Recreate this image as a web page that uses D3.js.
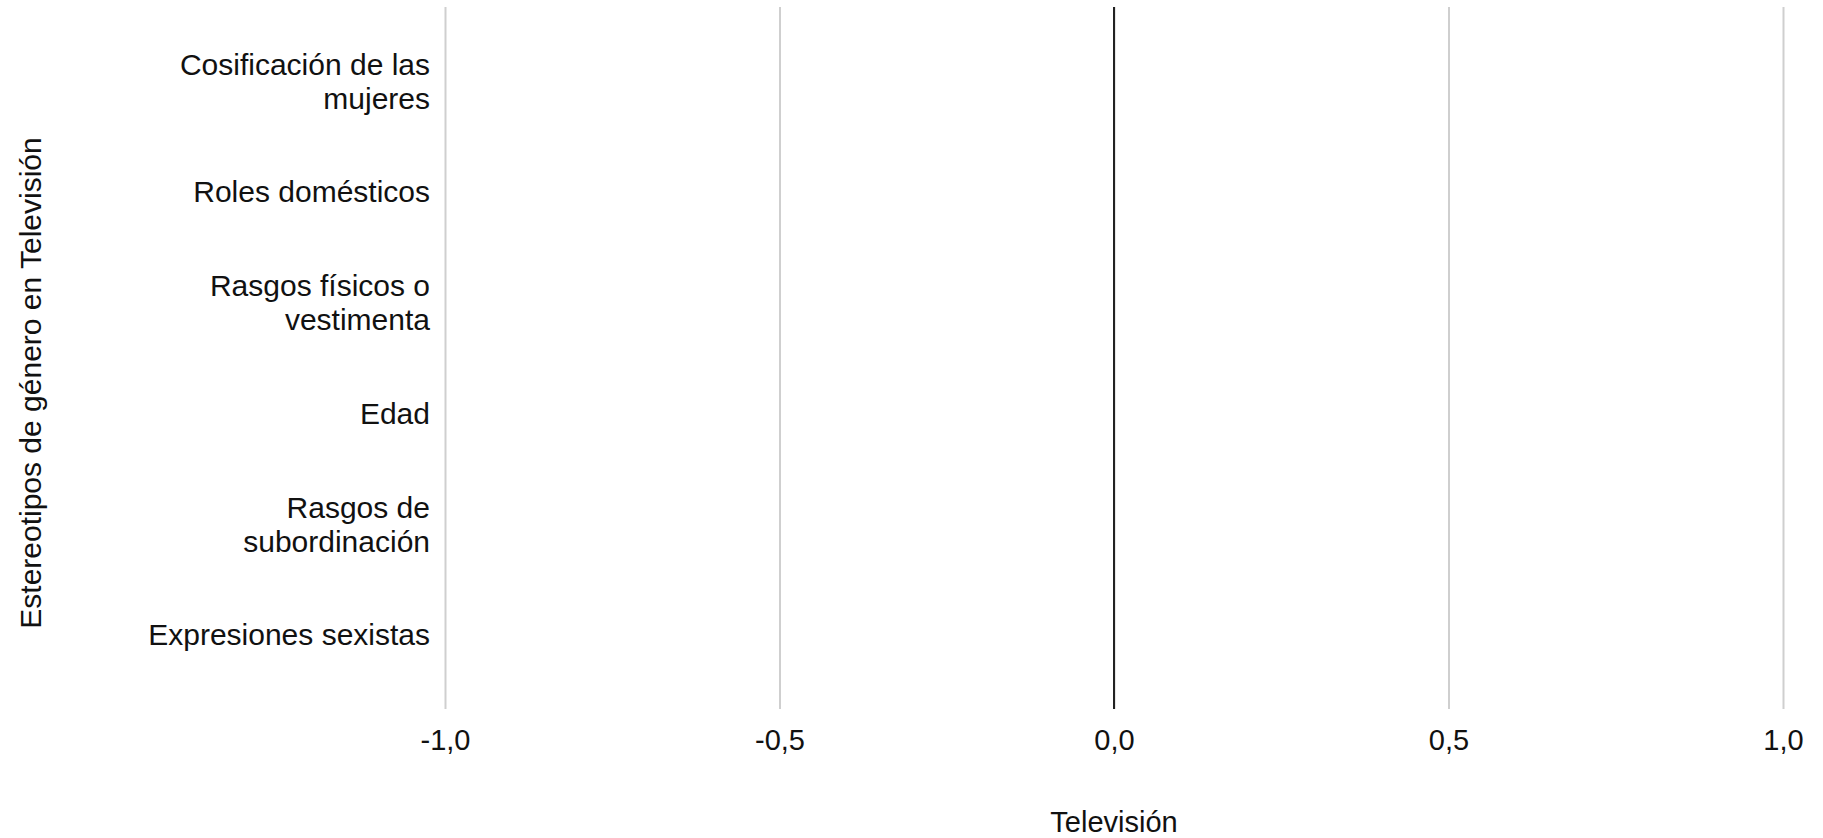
<!DOCTYPE html>
<html>
<head>
<meta charset="utf-8">
<script src="https://cdn.jsdelivr.net/npm/d3@7"></script>
<style>
  body { margin: 0; background: #fff; }
  text { font-family: Arial, "Liberation Sans", sans-serif; fill: #111; }
</style>
</head>
<body>
<div id="chart"></div>
<script>
// Data
var categories = [
  ["Cosificación de las", "mujeres"],
  ["Roles domésticos"],
  ["Rasgos físicos o", "vestimenta"],
  ["Edad"],
  ["Rasgos de", "subordinación"],
  ["Expresiones sexistas"]
];
var values = [0, 0, 0, 0, 0, 0]; // no bars shown
var xTicks = [-1, -0.5, 0, 0.5, 1];
var xTitle = "Televisión";
var yTitle = "Estereotipos de género en Televisión";

var width = 1823, height = 838;
var plotLeft = 445, plotRight = 1783, plotTop = 7, plotBottom = 709;
var fs = 29, fsCat = 30;

var svg = d3.select("#chart").append("svg")
  .attr("width", width)
  .attr("height", height);

var x = d3.scaleLinear().domain([-1, 1]).range([plotLeft, plotRight]);
var y = d3.scalePoint()
  .domain(d3.range(categories.length))
  .range([plotTop, plotBottom])
  .padding(0.668);

// gridlines + tick labels
var xAxis = d3.axisBottom(x)
  .tickValues(xTicks)
  .tickSize(-(plotBottom - plotTop))
  .tickPadding(20)
  .tickFormat(function(d) { return d3.format(".1f")(d).replace("−", "-").replace(".", ","); });

var gx = svg.append("g")
  .attr("transform", "translate(0," + plotBottom + ")")
  .call(xAxis);
gx.select(".domain").remove();
gx.selectAll(".tick line")
  .attr("stroke", "#cfcfcf")
  .attr("stroke-width", 2);
gx.selectAll(".tick text")
  .attr("font-size", fs)
  .attr("fill", "#111")
  .attr("font-family", "Arial, 'Liberation Sans', sans-serif");

// zero line
svg.append("line")
  .attr("x1", x(0)).attr("x2", x(0))
  .attr("y1", plotTop).attr("y2", plotBottom)
  .attr("stroke", "#222")
  .attr("stroke-width", 2);

// bars (all zero)
svg.selectAll("rect.bar")
  .data(values)
  .enter().append("rect")
  .attr("class", "bar")
  .attr("x", function(d) { return Math.min(x(0), x(d)); })
  .attr("width", function(d) { return Math.abs(x(d) - x(0)); })
  .attr("y", function(d, i) { return y(i) - 30; })
  .attr("height", 60)
  .attr("fill", "#3a6ea5");

// category labels
var lh = 34;
var cat = svg.selectAll("text.cat")
  .data(categories)
  .enter().append("text")
  .attr("class", "cat")
  .attr("text-anchor", "end")
  .attr("font-size", fsCat)
  .attr("y", function(d, i) { return y(i); });
cat.selectAll("tspan")
  .data(function(d) { return d.map(function(s, j) { return { s: s, j: j, n: d.length }; }); })
  .enter().append("tspan")
  .attr("x", 430)
  .attr("dy", function(t) { return t.j === 0 ? (0.35 * fsCat - (t.n - 1) * lh / 2) : lh; })
  .text(function(t) { return t.s; });

// axis titles
svg.append("text")
  .attr("text-anchor", "middle")
  .attr("font-size", fs)
  .attr("x", x(0))
  .attr("y", 832)
  .text(xTitle);

svg.append("text")
  .attr("text-anchor", "middle")
  .attr("font-size", fsCat)
  .attr("transform", "translate(41," + ((137 + 629) / 2) + ") rotate(-90)")
  .text(yTitle);
</script>
</body>
</html>
